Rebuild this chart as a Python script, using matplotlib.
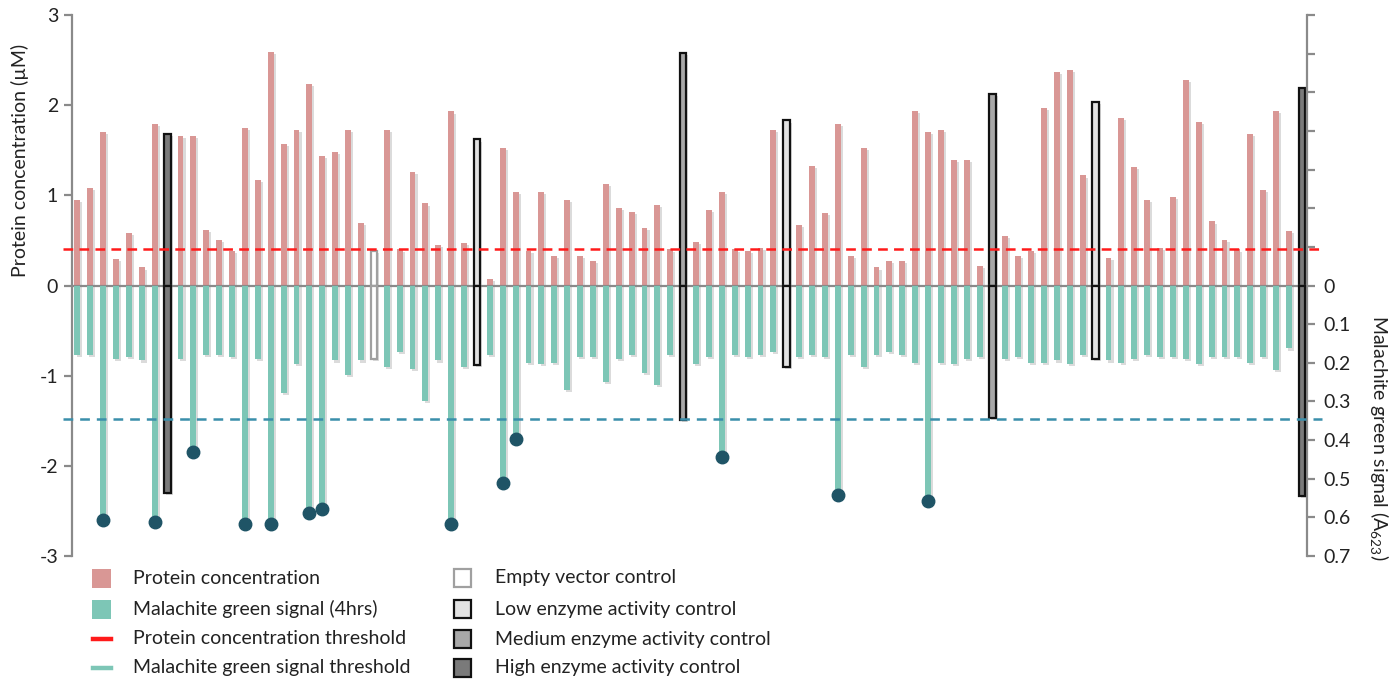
import matplotlib
matplotlib.use("Agg")
import matplotlib.pyplot as plt
import matplotlib.patheffects as pe
from matplotlib.patches import Rectangle
from matplotlib.lines import Line2D
import numpy as np

plt.rcParams['font.family'] = ['Lato', 'DejaVu Sans']
plt.rcParams['mathtext.fontset'] = 'custom'
plt.rcParams['mathtext.rm'] = 'Lato'
plt.rcParams['mathtext.it'] = 'Lato:italic'
plt.rcParams['lines.scale_dashes'] = False

# ---------------- data ----------------
# sample kind per well: 'S' sample, 'E' empty vector, 'L' low, 'M' medium, 'H' high control
kinds = (['S'] * 7 + ['H'] + ['S'] * 15 + ['E'] + ['S'] * 7 + ['L'] + ['S'] * 15 + ['M']
         + ['S'] * 7 + ['L'] + ['S'] * 15 + ['M'] + ['S'] * 7 + ['L'] + ['S'] * 15 + ['H'])

protein = [0.95, 1.085, 1.70, 0.29, 0.58, 0.20, 1.79, 1.68, 1.66, 1.66,
           0.62, 0.51, 0.38, 1.75, 1.17, 2.59, 1.57, 1.73, 2.24, 1.44,
           1.48, 1.73, 0.69, 0.38, 1.73, 0.40, 1.26, 0.91, 0.45, 1.93,
           0.47, 1.62, 0.07, 1.53, 1.04, 0.38, 1.04, 0.33, 0.95, 0.33,
           0.27, 1.13, 0.86, 0.82, 0.64, 0.89, 0.40, 2.58, 0.48, 0.84,
           1.04, 0.40, 0.38, 0.42, 1.72, 1.83, 0.67, 1.33, 0.80, 1.79,
           0.33, 1.53, 0.20, 0.27, 0.27, 1.94, 1.70, 1.72, 1.39, 1.39,
           0.22, 2.12, 0.55, 0.33, 0.38, 1.97, 2.37, 2.39, 1.22, 2.04,
           0.31, 1.86, 1.31, 0.95, 0.42, 0.98, 2.28, 1.81, 0.71, 0.51,
           0.40, 1.68, 1.06, 1.94, 0.60, 2.19]

malachite = [0.180, 0.180, 0.607, 0.189, 0.184, 0.194, 0.611, 0.537, 0.189, 0.432,
             0.180, 0.180, 0.184, 0.618, 0.189, 0.618, 0.278, 0.203, 0.588, 0.579,
             0.194, 0.231, 0.194, 0.191, 0.210, 0.173, 0.215, 0.299, 0.194, 0.618,
             0.210, 0.205, 0.180, 0.511, 0.397, 0.200, 0.203, 0.200, 0.271, 0.184,
             0.184, 0.250, 0.189, 0.180, 0.226, 0.257, 0.180, 0.348, 0.203, 0.184,
             0.443, 0.180, 0.184, 0.180, 0.173, 0.210, 0.184, 0.180, 0.184, 0.541,
             0.180, 0.210, 0.180, 0.173, 0.180, 0.200, 0.558, 0.200, 0.203, 0.189,
             0.184, 0.343, 0.189, 0.184, 0.200, 0.200, 0.194, 0.203, 0.180, 0.189,
             0.194, 0.200, 0.189, 0.180, 0.184, 0.184, 0.189, 0.203, 0.184, 0.184,
             0.184, 0.200, 0.184, 0.219, 0.163, 0.544]

protein_threshold = 0.40
malachite_threshold = 0.345

left_ticks = [-3, -2, -1, 0, 1, 2, 3]
right_ticks = [-0.7, -0.6, -0.5, -0.4, -0.3, -0.2, -0.1, 0, 0.1, 0.2, 0.3, 0.4, 0.5, 0.6, 0.7]
right_labels = ['', '', '', '', '', '', '', '0', '0.1', '0.2', '0.3', '0.4', '0.5', '0.6', '0.7']

legend_left = ['Protein concentration', 'Malachite green signal (4hrs)',
               'Protein concentration threshold', 'Malachite green signal threshold']
legend_right = ['Empty vector control', 'Low enzyme activity control',
                'Medium enzyme activity control', 'High enzyme activity control']

# ---------------- style ----------------
PINK = '#d99795'
GREEN = '#7dc6b6'
DOT = '#1f5466'
RED = '#ff1a1a'
BLUE = '#3a8fab'
AXIS = '#8a8a8a'
ctrl_face = {'E': '#ffffff', 'L': '#e2e2e2', 'M': '#a8a8a8', 'H': '#7a7a7a'}
ctrl_edge = {'E': '#a0a0a0', 'L': '#111111', 'M': '#111111', 'H': '#111111'}
FS = 14

W, H = 1393, 682
fig = plt.figure(figsize=(W / 100, H / 100), dpi=100)
ax = fig.add_axes([72 / W, 1 - 556 / H, (1307 - 72) / W, (556 - 15) / H])
ax2 = ax.twinx()

n = len(protein)
x = np.arange(n)
shadow = [pe.SimplePatchShadow(offset=(1.5, -1.5), shadow_rgbFace='#999999', alpha=0.35), pe.Normal()]

samp = np.array([k == 'S' for k in kinds])
prot = np.array(protein)
mal = np.array(malachite)

ax.bar(x[samp], prot[samp], width=0.46, color=PINK, zorder=2, path_effects=shadow)
ax2.bar(x[samp], mal[samp], width=0.46, color=GREEN, zorder=2, path_effects=shadow)

for i, k in enumerate(kinds):
    if k == 'S':
        continue
    ax.bar(i, protein[i], width=0.5, color=ctrl_face[k], edgecolor=ctrl_edge[k],
           linewidth=1.6, zorder=3, path_effects=shadow)
    ax2.bar(i, malachite[i], width=0.5, color=ctrl_face[k], edgecolor=ctrl_edge[k],
            linewidth=1.6, zorder=3, path_effects=shadow)

hits = samp & (mal > malachite_threshold)
ax2.plot(x[hits], mal[hits], 'o', color=DOT, markersize=9, zorder=5, clip_on=False)

# zero line
ax.axhline(0, color=AXIS, linewidth=1.6, zorder=4)

# thresholds
ax.plot([-1.1, n + 0.6], [protein_threshold] * 2, color=RED, linewidth=1.8,
        dashes=(7, 4.5), zorder=4, clip_on=False)
ax2.plot([-1.1, n + 0.6], [malachite_threshold] * 2, color=BLUE, linewidth=1.8,
         dashes=(7, 5), zorder=4, clip_on=False)

ax.set_xlim(-0.42, n - 0.6)
ax.set_ylim(-3, 3)
ax2.set_ylim(0.7, -0.7)

for a in (ax, ax2):
    a.set_xticks([])
    for s in ('top', 'bottom'):
        a.spines[s].set_visible(False)
ax.spines['right'].set_visible(False)
ax2.spines['left'].set_visible(False)
ax.spines['left'].set_color(AXIS)
ax.spines['left'].set_linewidth(1.6)
ax2.spines['right'].set_color(AXIS)
ax2.spines['right'].set_linewidth(1.6)

ax.set_yticks(left_ticks)
ax.set_yticklabels([str(t) for t in left_ticks])
ax.tick_params(axis='y', direction='out', length=6, width=1.6, color=AXIS,
               labelsize=FS, labelcolor='#222222', pad=4)
ax2.set_yticks(right_ticks)
ax2.set_yticklabels(right_labels)
ax2.tick_params(axis='y', direction='out', length=6, width=1.6, color=AXIS,
                labelsize=FS, labelcolor='#222222', pad=6)

fig.text(20 / W, 1 - 160 / H, 'Protein concentration (µM)', rotation=90,
         ha='center', va='center', fontsize=FS, color='#222222')
fig.text(1379 / W, 1 - 438 / H, 'Malachite green signal (A$_{623}$)', rotation=270,
         ha='center', va='center', fontsize=FS, color='#222222')

# ---------------- legend ----------------
lax = fig.add_axes([0, 0, 1, 1], facecolor='none')
lax.set_xlim(0, W)
lax.set_ylim(H, 0)
lax.axis('off')
rows = [578, 609, 639, 668]
left_handles = [('patch', PINK, PINK), ('patch', GREEN, GREEN), ('line', RED), ('line', GREEN)]
for (h, label, yy) in zip(left_handles, legend_left, rows):
    if h[0] == 'patch':
        lax.add_patch(Rectangle((92, yy - 9.5), 19, 19, facecolor=h[1], edgecolor='none'))
    else:
        lax.add_line(Line2D([93, 111], [yy, yy], color=h[1], linewidth=3.2))
    lax.text(133, yy, label, va='center', ha='left', fontsize=FS, color='#222222')
for (k, label, yy) in zip(['E', 'L', 'M', 'H'], legend_right, rows):
    lax.add_patch(Rectangle((454, yy - 9), 17, 18, facecolor=ctrl_face[k],
                            edgecolor=ctrl_edge[k], linewidth=1.6))
    lax.text(495, yy, label, va='center', ha='left', fontsize=FS, color='#222222')

fig.savefig('out.png', dpi=100, facecolor='white')
